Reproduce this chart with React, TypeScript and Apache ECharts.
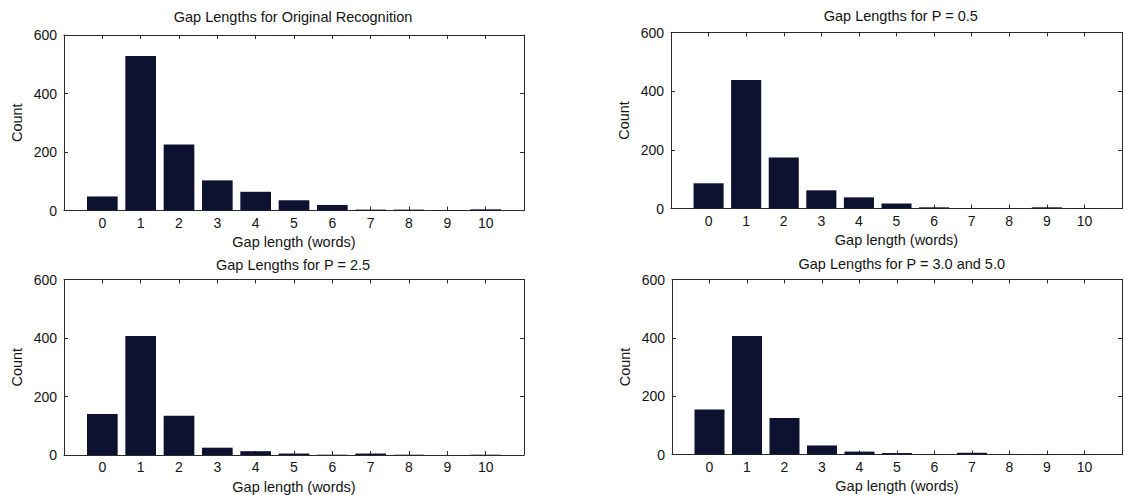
import React, { useEffect, useRef } from "react";
import * as echarts from "echarts";

const categories = ["0", "1", "2", "3", "4", "5", "6", "7", "8", "9", "10"];
const originalCounts = [48, 528, 226, 103, 64, 35, 19, 3, 3, 1, 4];
const p05Counts = [86, 438, 174, 62, 38, 17, 4, 1, 1, 4, 1];
const p25Counts = [140, 407, 134, 25, 13, 5, 1, 5, 1, 0, 1];
const p30and50Counts = [154, 406, 125, 31, 10, 5, 1, 6, 1, 1, 1];
const panelTitles = [
  "Gap Lengths for Original Recognition",
  "Gap Lengths for P = 0.5",
  "Gap Lengths for P = 2.5",
  "Gap Lengths for P = 3.0 and 5.0",
];
const yMin = 0;
const yMax = 600;
const yInterval = 200;
const xAxisTitle = "Gap length (words)";
const yAxisTitle = "Count";

const FONT = "Liberation Sans, Arial, Helvetica, sans-serif";
const TEXT = "#141414";
const LINE = "#2a2a2a";
const BAR = "#0c1230";

const panels = [
  { data: originalCounts, left: 64, top: 35, width: 460, height: 175.5, titleY: 17 },
  { data: p05Counts, left: 671, top: 32.5, width: 461.5, height: 176, titleY: 16 },
  { data: p25Counts, left: 64, top: 279.5, width: 460, height: 176.5, titleY: 265 },
  { data: p30and50Counts, left: 672, top: 279.5, width: 461.5, height: 175, titleY: 263.5 },
];

export default function App() {
  const ref = useRef<HTMLDivElement>(null);
  useEffect(() => {
    if (!ref.current) return;
    const chart = echarts.init(ref.current, null, { renderer: "svg" });
    const axisCats = ["", ...categories, ""];
    const grids: any[] = [];
    const xAxes: any[] = [];
    const yAxes: any[] = [];
    const series: any[] = [];
    const graphics: any[] = [];
    panels.forEach((p, i) => {
      grids.push({ left: p.left, top: p.top, width: p.width, height: p.height, containLabel: false });
      const tick = { show: true, inside: true, length: 4, interval: 0, lineStyle: { color: LINE } };
      const axisLine = { show: true, onZero: false, lineStyle: { color: LINE, width: 1 } };
      xAxes.push({
        type: "category",
        gridIndex: i,
        data: axisCats,
        boundaryGap: false,
        position: "bottom",
        axisLine,
        axisTick: tick,
        axisLabel: { interval: 0, margin: 5, fontSize: 14, color: TEXT, fontFamily: FONT },
        splitLine: { show: false },
        name: xAxisTitle,
        nameLocation: "middle",
        nameGap: 24,
        nameTextStyle: { fontSize: 14.5, color: TEXT, fontFamily: FONT },
      });
      xAxes.push({
        type: "category",
        gridIndex: i,
        data: axisCats,
        boundaryGap: false,
        position: "top",
        axisLine,
        axisTick: tick,
        axisLabel: { show: false },
        splitLine: { show: false },
      });
      yAxes.push({
        type: "value",
        gridIndex: i,
        min: yMin,
        max: yMax,
        interval: yInterval,
        position: "left",
        axisLine,
        axisTick: { show: true, inside: true, length: 4, lineStyle: { color: LINE } },
        axisLabel: { margin: 7, fontSize: 14, color: TEXT, fontFamily: FONT },
        splitLine: { show: false },
        name: yAxisTitle,
        nameLocation: "middle",
        nameGap: 40,
        nameTextStyle: { fontSize: 14.5, color: TEXT, fontFamily: FONT },
      });
      yAxes.push({
        type: "value",
        gridIndex: i,
        min: yMin,
        max: yMax,
        interval: yInterval,
        position: "right",
        axisLine,
        axisTick: { show: true, inside: true, length: 4, lineStyle: { color: LINE } },
        axisLabel: { show: false },
        splitLine: { show: false },
      });
      series.push({
        type: "bar",
        xAxisIndex: 2 * i,
        yAxisIndex: 2 * i,
        data: [null, ...p.data, null],
        barWidth: "80%",
        itemStyle: { color: BAR },
        silent: true,
      });
      graphics.push({
        type: "text",
        x: p.left + p.width / 2 - 1,
        y: p.titleY,
        style: {
          text: panelTitles[i],
          fill: TEXT,
          font: `14.5px ${FONT}`,
          textAlign: "center",
          textVerticalAlign: "middle",
        },
      });
    });
    chart.setOption({
      animation: false,
      backgroundColor: "#ffffff",
      grid: grids,
      xAxis: xAxes,
      yAxis: yAxes,
      series,
      graphic: graphics,
    });
    return () => chart.dispose();
  }, []);
  return (
    <div
      ref={ref}
      style={{ position: "fixed", left: 0, top: 0, width: 1125, height: 495, background: "#fff" }}
    />
  );
}
